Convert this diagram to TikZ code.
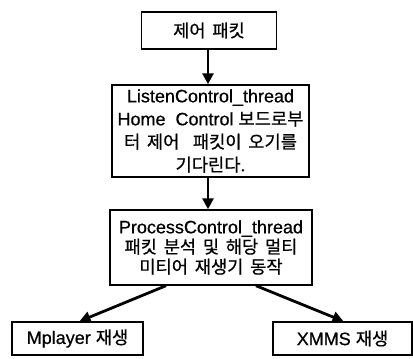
\documentclass[tikz,border=0pt]{standalone}
\usepackage{fontspec}
\setmainfont{Liberation Sans}[FakeBold=0.6]
\newfontfamily\korfont{Noto Sans CJK KR}[Scale=0.98,WordSpace=1.7,FakeBold=0.6]
\newcommand\ko[1]{{\korfont #1}}
\newcommand\tightlines{\lineskiplimit-20pt\relax}
\usetikzlibrary{calc,arrows.meta}
\begin{document}
\begin{tikzpicture}[x=1pt,y=-1pt,
  box/.style={draw,line width=1.4pt,rectangle,inner sep=0pt,align=center,
    font=\fontsize{18}{23}\selectfont\tightlines},
  arr/.style={line width=2.8pt,-{Triangle[length=11pt,width=11pt]}}]
\useasboundingbox (0,0) rectangle (413,359);
\node[box,minimum width=135,minimum height=37] (b1) at (209,30.5) {\ko{제어 패킷}};
\node[box,minimum width=197,minimum height=92] (b2) at (210.5,131)
  {ListenControl\_thread\\Home\ \ Control \ko{보드로부}\\\ko{터 제어\ \ 패킷이 오기를}\\\ko{기다린다.}};
\node[box,minimum width=202,minimum height=75] (b3) at (211,247.5)
  {ProcessControl\_thread\\[-3pt]\ko{패킷 분석 및 해당 멀티}\\[-3pt]\ko{미티어 재생기 동작}};
\node[box,minimum width=131,minimum height=33] (b4) at (77.5,338.5) {Mplayer \ko{재생}};
\node[box,minimum width=139,minimum height=33] (b5) at (342.5,338.5) {XMMS \ko{재생}};
\draw[arr] (b1.south -| 208,0) -- (b2.north -| 208,0);
\draw[arr] (b2.south -| 208,0) -- (b3.north -| 208,0);
\draw[arr] ($(b3.south)+(-45,0)$) -- ($(b4.north)+(2,0)$);
\draw[arr] ($(b3.south)+(45,0)$) -- ($(b5.north)+(1,0)$);
\end{tikzpicture}
\end{document}
